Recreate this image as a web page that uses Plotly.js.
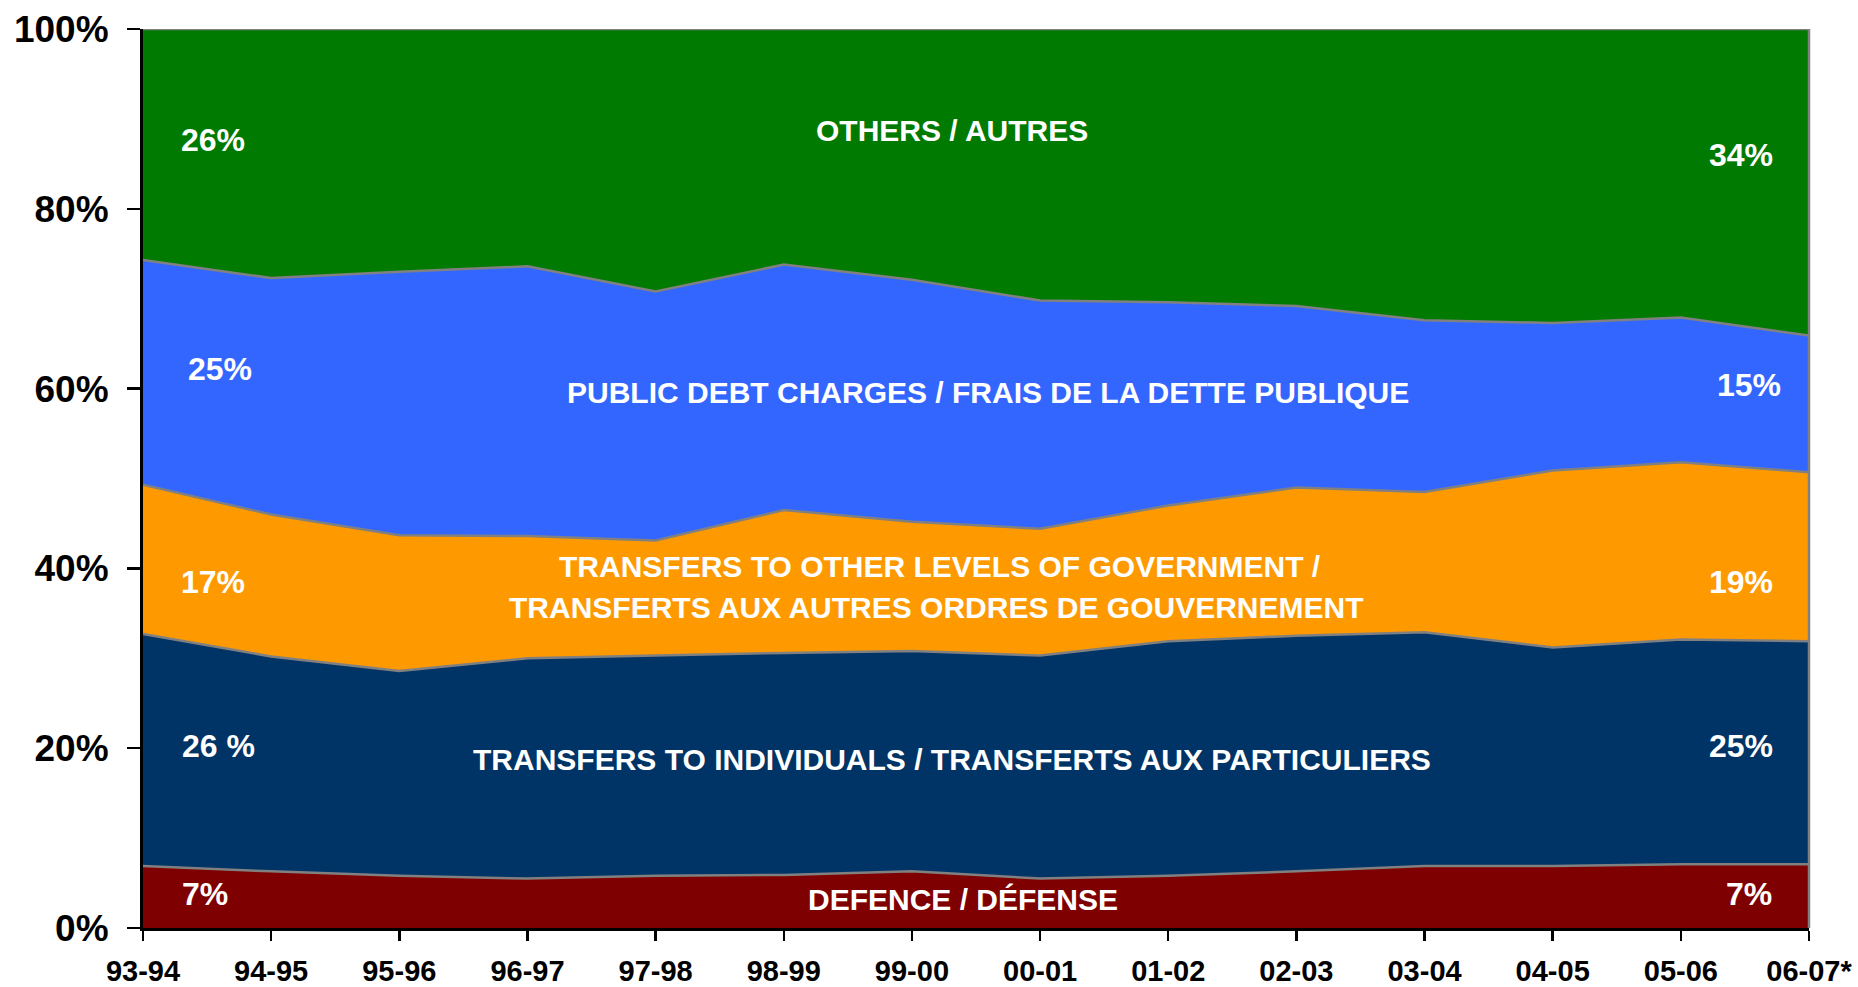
<!DOCTYPE html>
<html>
<head>
<meta charset="utf-8">
<script src="https://cdn.plot.ly/plotly-3.0.1.min.js"></script>
<style>html,body{margin:0;padding:0;background:#fff;}#chart{width:1858px;height:987px;}</style>
</head>
<body>
<div id="chart"></div>
<script>
const years = ["93-94","94-95","95-96","96-97","97-98","98-99","99-00","00-01","01-02","02-03","03-04","04-05","05-06","06-07*"];
const defence     = [6.9, 6.3, 5.8, 5.5, 5.8, 5.9, 6.3, 5.5, 5.8, 6.3, 6.9, 6.9, 7.1, 7.1];
const individuals = [25.8, 23.9, 22.8, 24.5, 24.5, 24.7, 24.5, 24.8, 26.1, 26.2, 26.0, 24.3, 25.0, 24.8];
const otherLevels = [16.6, 15.8, 15.1, 13.6, 12.8, 15.9, 14.4, 14.1, 15.1, 16.5, 15.6, 19.7, 19.7, 18.8];
const debt        = [25.0, 26.3, 29.3, 30.0, 27.7, 27.3, 26.9, 25.4, 22.6, 20.2, 19.1, 16.4, 16.1, 15.2];
const others      = [25.7, 27.7, 27.0, 26.4, 29.2, 26.2, 27.9, 30.2, 30.4, 30.8, 32.4, 32.7, 32.1, 34.1];
const yTicks = [0, 20, 40, 60, 80, 100];
const yTickText = ["0%", "20%", "40%", "60%", "80%", "100%"];

const seriesNames = ["DEFENCE / DÉFENSE", "TRANSFERS TO INDIVIDUALS", "TRANSFERS TO OTHER LEVELS", "PUBLIC DEBT CHARGES", "OTHERS / AUTRES"];
const seriesData = [defence, individuals, otherLevels, debt, others];
const seriesColors = ["#7F0000", "#003366", "#FF9900", "#3366FF", "#007A00"];

const traces = seriesData.map((d, i) => ({
  type: "scatter", mode: "lines", x: years, y: d, name: seriesNames[i],
  stackgroup: "one", fillcolor: seriesColors[i],
  line: {color: "#808080", width: 2.5, shape: "linear"},
  hoverinfo: "skip"
}));

const big = {family: "Liberation Sans, Arial, sans-serif", size: 30, color: "#ffffff", weight: "bold"};
const pct = {family: "Liberation Sans, Arial, sans-serif", size: 32, color: "#ffffff", weight: "bold"};
function ann(text, x, y, font) {
  return {text: "<b>" + text + "</b>", x: x, y: y, xref: "x", yref: "y", showarrow: false, font: font, xanchor: "center", yanchor: "middle"};
}
const annotations = [
  ann("OTHERS / AUTRES", 6.31, 88.7, big),
  ann("PUBLIC DEBT CHARGES / FRAIS DE LA DETTE PUBLIQUE", 6.59, 59.6, big),
  ann("TRANSFERS TO OTHER LEVELS OF GOVERNMENT /", 6.22, 40.2, big),
  ann("TRANSFERTS AUX AUTRES ORDRES DE GOUVERNEMENT", 6.19, 35.6, big),
  ann("TRANSFERS TO INDIVIDUALS / TRANSFERTS AUX PARTICULIERS", 6.31, 18.7, big),
  ann("DEFENCE / DÉFENSE", 6.40, 3.2, big),
  ann("26%", 0.55, 87.7, pct),
  ann("25%", 0.60, 62.2, pct),
  ann("17%", 0.55, 38.5, pct),
  ann("26 %", 0.59, 20.2, pct),
  ann("7%", 0.48, 3.8, pct),
  ann("34%", 12.47, 86.0, pct),
  ann("15%", 12.53, 60.4, pct),
  ann("19%", 12.47, 38.5, pct),
  ann("25%", 12.47, 20.2, pct),
  ann("7%", 12.53, 3.8, pct)
];

const layout = {
  width: 1858, height: 987,
  margin: {l: 143, r: 48.5, t: 28.5, b: 59, pad: 0},
  paper_bgcolor: "#ffffff", plot_bgcolor: "#ffffff",
  showlegend: false,
  font: {family: "Liberation Sans, Arial, sans-serif", color: "#000000"},
  xaxis: {
    type: "category", range: [0, 13], showgrid: false, zeroline: false,
    showline: true, linecolor: "#000000", linewidth: 3,
    ticks: "outside", ticklen: 10, tickwidth: 2.5, tickcolor: "#000000",
    tickfont: {size: 29, color: "#000000", weight: "bold"},
    ticklabelstandoff: 5, automargin: false
  },
  yaxis: {
    range: [0, 100], tickvals: yTicks, ticktext: yTickText,
    showgrid: false, zeroline: false,
    showline: true, linecolor: "#000000", linewidth: 3,
    ticks: "outside", ticklen: 13, tickwidth: 2.5, tickcolor: "#000000",
    tickfont: {size: 37, color: "#000000", weight: "bold"},
    ticklabelstandoff: 11, automargin: false
  },
  shapes: [
    {type: "line", xref: "paper", yref: "paper", x0: 1, x1: 1, y0: 0, y1: 1, line: {color: "#808080", width: 2.5}}
  ],
  annotations: annotations
};

Plotly.newPlot("chart", traces, layout, {staticPlot: true, displayModeBar: false});
</script>
</body>
</html>
